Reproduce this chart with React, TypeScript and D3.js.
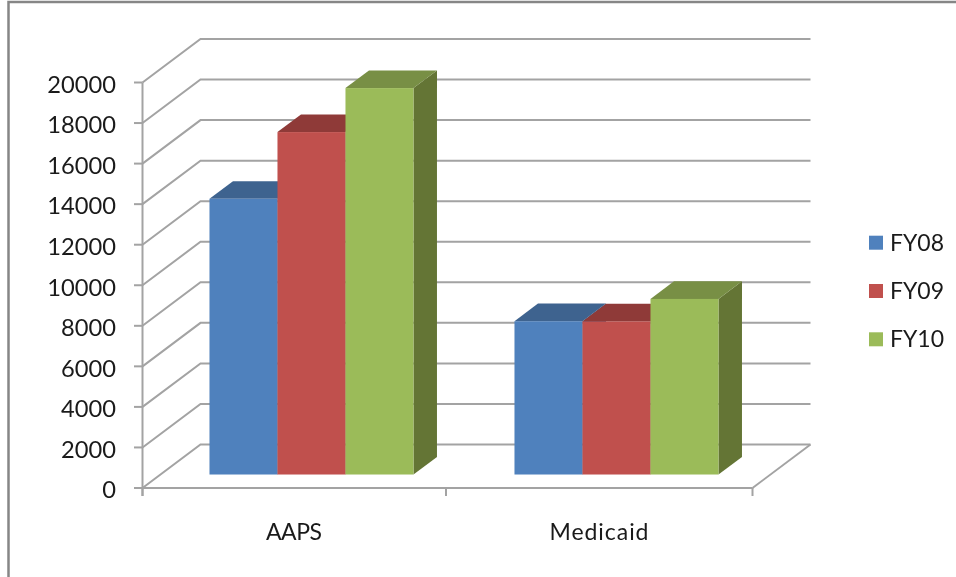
import React, { useEffect, useRef } from 'react';
import * as d3 from 'd3';

const categories = ['AAPS', 'Medicaid'];
const seriesNames = ['FY08', 'FY09', 'FY10'];
const fy08 = [13600, 7560];
const fy09 = [16890, 7550];
const fy10 = [19060, 8660];
const seriesValues = [fy08, fy09, fy10];
const yTicks = [0, 2000, 4000, 6000, 8000, 10000, 12000, 14000, 16000, 18000, 20000];

const colors = {
  FY08: { front: '#4f81bd', top: '#3e638f', side: '#3a5f8b' },
  FY09: { front: '#c0504d', top: '#8f3a38', side: '#8c3a38' },
  FY10: { front: '#9bbb59', top: '#788f45', side: '#647535' },
};

const AXIS = '#a3a3a3';
const FONT = 'Lato, sans-serif';

export default function App() {
  const svgRef = useRef<SVGSVGElement>(null);

  useEffect(() => {
    if (!svgRef.current) return;
    const svg = d3.select(svgRef.current);
    svg.selectAll('*').remove();

    const x0 = d3.scaleBand<string>().domain(categories).range([142.5, 752.5]);
    const y = d3.scaleLinear().domain([0, 20000]).range([488, 82.5]);
    // depth goes 0 (front of floor) to 1 (back wall)
    const dx = d3.scaleLinear().domain([0, 1]).range([0, 58]);
    const dy = d3.scaleLinear().domain([0, 1]).range([0, -43.5]);
    const groupPad = 49;
    const x1 = d3
      .scaleBand<string>()
      .domain(seriesNames)
      .range([0, x0.bandwidth() - 101]);
    const depthFront = 0.31;
    const depthBack = 0.715;

    const pt = (px: number, v: number, depth: number): [number, number] => [px + dx(depth), y(v) + dy(depth)];
    const poly = (pts: [number, number][]) => pts.map((p) => p.join(',')).join(' ');

    // chart frame
    svg
      .append('path')
      .attr('d', 'M8.5,577V2H956')
      .attr('fill', 'none')
      .attr('stroke', '#868686')
      .attr('stroke-width', 2.5);

    // walls: grid on the left wall and back wall
    const grid = svg.append('g').attr('fill', 'none').attr('stroke', AXIS).attr('stroke-width', 2);
    yTicks.forEach((t) => {
      const a = pt(142.5, t, 0);
      const b = pt(142.5, t, 1);
      const c = pt(752.5, t, 1);
      grid.append('path').attr('d', d3.line()([a, b, c]));
    });
    // right edge of floor
    grid.append('path').attr('d', d3.line()([pt(752.5, 0, 0), pt(752.5, 0, 1)]));

    // axes
    const axes = svg.append('g').attr('fill', 'none').attr('stroke', AXIS).attr('stroke-width', 2);
    axes.append('line').attr('x1', 142.5).attr('x2', 142.5).attr('y1', y(20000)).attr('y2', 496);
    axes.append('line').attr('x1', 142.5).attr('x2', 752.5).attr('y1', y(0)).attr('y2', y(0));
    yTicks.forEach((t) => {
      axes.append('line').attr('x1', 134).attr('x2', 142.5).attr('y1', y(t)).attr('y2', y(t));
    });
    [142.5, 446, 752.5].forEach((tx) => {
      axes.append('line').attr('x1', tx).attr('x2', tx).attr('y1', y(0)).attr('y2', 496);
    });

    // bars
    categories.forEach((cat, ci) => {
      seriesNames.forEach((name, si) => {
        const v = seriesValues[si][ci];
        const c = colors[name as keyof typeof colors];
        const left = x0(cat)! + groupPad + x1(name)!;
        const right = left + x1.bandwidth();
        const g = svg.append('g');
        g.append('polygon')
          .attr('points', poly([pt(right, 0, depthFront), pt(right, 0, depthBack), pt(right, v, depthBack), pt(right, v, depthFront)]))
          .attr('fill', c.side);
        g.append('polygon')
          .attr('points', poly([pt(left, v, depthFront), pt(right, v, depthFront), pt(right, v, depthBack), pt(left, v, depthBack)]))
          .attr('fill', c.top);
        const [fx, fy] = pt(left, v, depthFront);
        const [, fb] = pt(left, 0, depthFront);
        g.append('rect')
          .attr('x', fx)
          .attr('y', fy)
          .attr('width', x1.bandwidth())
          .attr('height', fb - fy)
          .attr('fill', c.front);
      });
    });

    // tick labels
    svg
      .append('g')
      .selectAll('text')
      .data(yTicks)
      .enter()
      .append('text')
      .attr('x', 116)
      .attr('y', (d) => y(d) + 2)
      .attr('dy', '0.35em')
      .attr('text-anchor', 'end')
      .attr('font-family', FONT)
      .attr('font-size', 23.7)
      .attr('fill', '#1a1a1a')
      .text((d) => d);

    svg
      .append('g')
      .selectAll('text')
      .data(categories)
      .enter()
      .append('text')
      .attr('x', (d) => x0(d)! + x0.bandwidth() / 2 - (d === 'AAPS' ? 1 : 1))
      .attr('y', 539.5)
      .attr('text-anchor', 'middle')
      .attr('font-family', FONT)
      .attr('font-size', 23)
      .attr('textLength', (d) => (d === 'AAPS' ? 56 : 99))
      .attr('fill', '#1a1a1a')
      .text((d) => d);

    // legend
    const legend = svg
      .append('g')
      .selectAll('g')
      .data(seriesNames)
      .enter()
      .append('g')
      .attr('transform', (_, i) => `translate(869,${242.7 + i * 48.3})`);
    legend
      .append('rect')
      .attr('y', -7)
      .attr('width', 14)
      .attr('height', 14)
      .attr('fill', (d) => colors[d as keyof typeof colors].front);
    legend
      .append('text')
      .attr('x', 21)
      .attr('dy', '0.35em')
      .attr('font-family', FONT)
      .attr('font-size', 23)
      .attr('fill', '#1a1a1a')
      .text((d) => d);
  }, []);

  return (
    <svg
      ref={svgRef}
      width={956}
      height={577}
      style={{ position: 'fixed', left: 0, top: 0, background: '#fff', filter: 'blur(0.4px)' }}
    />
  );
}
